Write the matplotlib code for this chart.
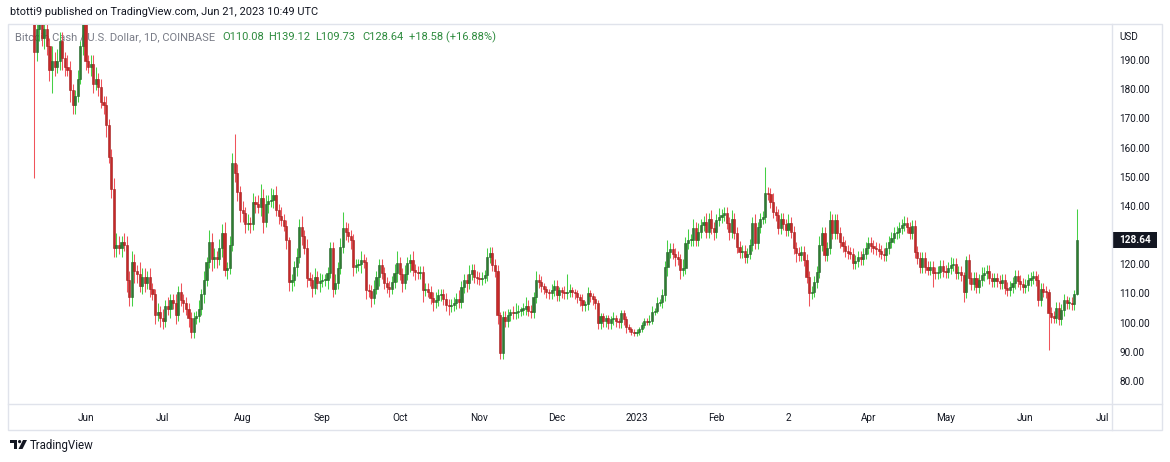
import numpy as np
import pandas as pd
import matplotlib
matplotlib.use("Agg")
import matplotlib.pyplot as plt
import matplotlib.dates as mdates
from matplotlib.patches import Rectangle, Polygon, Circle

plt.rcParams['font.family'] = ['Roboto', 'DejaVu Sans']

# ---------------- data ----------------
start_date = "2022-05-12"
first_open = 205.0

closes = [
    193, 201, 203, 198, 201, 195, 187, 190, 188, 190,
    197, 191, 188, 187, 180, 175, 178, 184, 195, 203,
    190, 188, 189, 182, 184, 181, 176, 175, 168, 157,
    146, 126, 127, 126, 128, 127, 115, 109, 121, 118,
    117, 113, 116, 114, 116, 112, 110, 103, 104, 102,
    101, 106, 105, 108, 107, 103, 111, 108, 107, 105,
    102, 97, 102, 102.5, 105, 110, 115, 121, 128, 122,
    123, 122, 126, 131, 118.4, 119, 127, 155, 151.6, 145,
    139, 138, 134, 134.5, 134, 141.7, 141, 140, 143, 135,
    141, 142, 142.5, 144, 139, 137, 135.5, 133.6, 128.7, 114.3,
    115, 119.4, 122.8, 133, 130, 126, 115.6, 115, 112.2, 116,
    114, 114.5, 115, 115, 117.5, 126, 112, 114, 119, 126.3,
    132.8, 131.5, 130, 128.7, 119.4, 120, 120.3, 121.8, 121, 111.5,
    111.2, 108.8, 112, 116, 120, 117.4, 114, 112.6, 112, 114.3,
    117.4, 120.8, 117, 114, 117, 120.8, 121.8, 118.4, 117.8, 117.4,
    117.6, 111.5, 111.8, 111, 108.8, 107.5, 108, 109.8, 110, 108.5,
    106.4, 106, 106.5, 107, 108.5, 107.4, 112.6, 115, 114, 117,
    118.4, 116, 115.6, 115.2, 115.8, 116.5, 122.8, 124.2, 120, 118,
    103, 90, 102.3, 101, 103, 104, 103.5, 104, 104.5, 104.8,
    105, 106, 104.5, 104, 109, 115, 114.3, 113, 112, 110.8,
    110.5, 111.5, 113, 109.8, 111.5, 110.8, 110.5, 111, 111.5, 111,
    110.5, 109, 108, 106.4, 106.8, 110.5, 109.5, 108.5, 107, 100.2,
    102.5, 101, 102, 100.2, 101.5, 102, 101, 100.5, 103.6, 101.5,
    98.8, 98, 97, 96.8, 97, 98, 99.5, 101, 100.5, 101,
    104, 104.5, 107, 107.5, 109.8, 119.4, 124.5, 125.5, 124, 122.8,
    122, 118.4, 119, 127.6, 128.5, 128.7, 132.8, 128.5, 131.4, 133.8,
    135, 131.5, 136, 132.8, 131.5, 135.5, 136.5, 137.2, 138, 134.5,
    131.5, 136, 131, 126.3, 124.5, 124.8, 122.8, 124, 127, 134.5,
    127.6, 133, 136, 136.5, 144.8, 144.5, 141.7, 138.3, 137.2, 132.8,
    136, 134, 132, 134.5, 131.4, 126, 124.2, 123.5, 124.5, 121.8,
    116, 110.5, 111, 114.3, 117.7, 127, 131, 123.5, 126, 135.5,
    131, 135.5, 131, 128, 126.5, 125, 124.2, 124, 120.8, 121.5,
    122.8, 122, 124, 126, 127.6, 126.5, 126, 125.5, 125, 124,
    123.5, 126, 128, 129.5, 131, 131.5, 132.8, 133.8, 134.5, 133,
    131, 133.5, 124.5, 122.5, 119.4, 122.5, 119.5, 118.5, 119.5, 117.4,
    117.2, 117.8, 119.8, 118, 117.7, 119, 120, 120.5, 117.4, 117.6,
    116.7, 110.8, 121.8, 115.6, 113.5, 115.6, 112.6, 115, 116.5, 117.4,
    118.2, 115.5, 114.5, 115.5, 114.5, 114, 115, 112.2, 111.5, 112.6,
    114, 116.3, 114.5, 113.5, 112.6, 113.2, 115, 115.6, 116.2, 115,
    108, 112, 111, 110.8, 103.6, 102.3, 102.1, 105.4, 101.5, 104.7,
    108, 107, 107.2, 106.8, 110.08, 128.64,
]

upper_wicks = [
    10, 4, 3, 5, 3, 4, 3, 5, 3, 4,
    3, 3, 2, 4, 3, 2, 2, 3, 2, 3,
    4, 2, 3, 3, 4, 2, 3, 2, 3, 2,
    3, 4, 4, 3, 2, 3, 3, 3, 4, 3,
    2, 4, 3, 3, 2, 3, 2, 2, 3, 2,
    3, 2, 3, 2, 2, 3, 2, 3, 2, 2,
    2, 2, 2, 2, 3, 2, 3, 2, 4, 3,
    3, 2, 3, 3, 4, 2, 3, 3.5, 10, 3,
    2, 3, 2, 3, 2, 3, 2, 3, 5, 3,
    3, 2, 4, 2, 3, 2, 3, 2, 2, 1,
    2, 2, 3, 3, 4, 2, 3, 2, 2, 3,
    2, 3, 2, 2, 2, 2, 2, 3, 2, 3,
    5.4, 2, 3, 2, 2, 2, 2, 3, 2, 2,
    2, 2, 3, 2, 2, 2, 2, 2, 2, 2,
    3, 4, 2, 2, 3, 2, 2, 3, 2, 2,
    2, 2, 2, 2, 2, 2, 3, 2, 2, 2,
    2, 2, 2, 2, 2, 3, 2, 2, 2, 3,
    2, 2, 2, 2, 2, 2, 3, 2, 2, 2,
    2, 1, 2, 2, 2, 1, 2, 3, 2, 1,
    2, 3, 2, 2, 2, 3, 2, 2, 1, 1,
    1, 2, 2, 2, 1, 1, 2, 6, 2, 1,
    1, 1, 1, 2, 1, 2, 1, 1, 1, 1,
    1, 1, 1, 1, 1, 2, 1, 1, 1, 1,
    1, 1, 1, 1, 1, 1, 1, 1, 1, 2,
    2, 1, 2, 1, 2, 2, 4, 2, 2, 2,
    2, 2, 3, 2, 4, 2, 3, 2, 3, 2,
    2, 3, 2, 3, 2, 2, 3, 2, 2, 2,
    2, 3, 2, 2, 2, 2, 2, 2, 2, 2,
    3, 2, 2, 2, 9, 2, 2, 3, 2, 2,
    2, 2, 2, 3, 2, 2, 2, 2, 2, 2,
    2, 2, 2, 2, 2, 3, 2, 2, 2, 3,
    2, 2, 2, 2, 2, 2, 2, 2, 2, 2,
    2, 2, 2, 2, 2, 2, 2, 2, 2, 2,
    2, 2, 2, 2, 2, 2, 2, 2, 2.3, 2,
    2, 2, 2, 2, 2, 2, 2, 2, 2, 2,
    2, 2, 2, 2, 2, 2, 3, 2, 2, 2,
    2, 1, 1.5, 2, 2, 2, 2, 2, 3, 2,
    2, 2, 2, 2, 2, 2, 2, 2, 2, 2,
    2, 2, 2, 2, 2, 2, 2, 2, 2, 2,
    2, 2, 2, 2, 1, 2, 2, 2, 2, 2,
    2, 1.5, 2, 2, 1.5, 10.48,
]

lower_wicks = [
    43, 3, 4, 3, 4, 3, 4, 8, 3, 2,
    3, 4, 3, 2, 4, 3, 3, 2, 2, 3,
    3, 2, 3, 3, 2, 3, 2, 3, 4, 2,
    3, 3, 3, 2, 3, 2, 4, 3, 3, 4,
    3, 2, 3, 3, 2, 3, 2, 3, 2, 3,
    3, 2, 2, 3, 2, 3, 2, 2, 3, 2,
    3, 2, 2, 2, 2, 2, 3, 2, 2, 4,
    3, 3, 2, 3, 2, 3, 2, 2, 3, 3,
    4, 3, 3, 2, 3, 2, 3, 2, 3, 4,
    2, 3, 2, 3, 2, 3, 2, 2, 3, 3,
    3, 2, 3, 2, 3, 2, 3, 2, 3, 2,
    2, 3, 2, 2, 3, 2, 3, 2, 2, 2,
    2, 3, 2, 3, 3, 2, 2, 3, 2, 3,
    2, 3, 2, 2, 3, 2, 2, 2, 3, 2,
    2, 3, 2, 3, 2, 2, 3, 2, 3, 2,
    2, 4, 2, 2, 2, 3, 2, 2, 2, 2,
    2, 3, 2, 2, 2, 2, 2, 2, 3, 2,
    2, 2, 2, 2, 2, 2, 2, 2, 2, 2,
    3, 2, 2, 2, 2, 2, 2, 2, 2, 2,
    2, 2, 2, 2, 2, 2, 2, 2, 2, 2,
    2, 2, 2, 2, 2, 2, 2, 2, 2, 2,
    2, 2, 2, 2, 2, 2, 2, 2, 2, 2,
    2, 2, 2, 2, 2, 2, 2, 2, 2, 2,
    2, 1, 1, 1, 1, 1, 1, 1, 1, 1,
    1, 1, 1, 1, 2, 2, 3, 2, 2, 3,
    2, 3, 2, 2, 2, 2, 2, 2, 2, 2,
    2, 2, 2, 2, 3, 2, 2, 2, 2, 2,
    3, 2, 2, 2, 2, 2, 2, 2, 2, 2,
    2, 2, 2, 2, 2, 2, 2, 2, 2, 2,
    2, 2, 2, 2, 2, 2, 3, 2, 2, 2,
    2, 4.5, 2, 2, 2, 2, 2, 2, 2, 2,
    2, 2, 2, 2, 2, 2, 2, 2, 2, 2,
    2, 2, 2, 2, 2, 2, 2, 2, 2, 2,
    2, 2, 2, 2, 2, 2, 2, 2, 2, 2,
    2, 2, 2, 2, 2, 2, 2, 2, 2, 5,
    2, 2, 2, 2, 2, 2, 2, 2, 2, 2,
    2, 3.4, 2, 2, 2, 2, 2, 2, 2, 2,
    2, 2, 2, 2, 2, 2, 2, 2, 2, 2,
    2, 2, 2, 2, 2, 2, 2, 2, 2, 2,
    2, 2, 2, 2, 12.6, 2, 2, 2, 2, 2,
    2, 2, 2, 2, 2, 0.35,
]

month_ticks = ["2022-06-01", "2022-07-01", "2022-08-01", "2022-09-01", "2022-10-01",
               "2022-11-01", "2022-12-01", "2023-01-01", "2023-02-01", "2023-03-01",
               "2023-04-01", "2023-05-01", "2023-06-01", "2023-07-01"]
month_labels = ["Jun", "Jul", "Aug", "Sep", "Oct", "Nov", "Dec", "2023", "Feb", "2",
                "Apr", "May", "Jun", "Jul"]
price_ticks = [80, 90, 100, 110, 120, 140, 150, 160, 170, 180, 190]

header = "btotti9 published on TradingView.com, Jun 21, 2023 10:49 UTC"
symbol_title = "Bitcoin Cash / U.S. Dollar, 1D, COINBASE"
ohlc_items = ["O110.08", "H139.12", "L109.73", "C128.64", "+18.58 (+16.88%)"]
last_price = "128.64"

assert len(closes) == len(upper_wicks) == len(lower_wicks)

# ---------------- figure ----------------
W, H = 1170, 462
fig = plt.figure(figsize=(W / 100, H / 100), dpi=100)
fig.patch.set_facecolor("white")

# pixel-coordinate overlay (behind the price axes)
bg = fig.add_axes([0, 0, 1, 1], zorder=0)
bg.set_xlim(0, W)
bg.set_ylim(H, 0)
bg.axis("off")

PL, PR, PT, PB = 10, 1112, 25, 404
ax = fig.add_axes([PL / W, 1 - PB / H, (PR - PL) / W, (PB - PT) / H], zorder=1)
ax.patch.set_alpha(0)
for s in ax.spines.values():
    s.set_visible(False)
ax.set_xticks([])
ax.set_yticks([])

dates = pd.date_range(start_date, periods=len(closes), freq="D")
x = mdates.date2num(dates)
c = np.array(closes, dtype=float)
o = np.r_[first_open, c[:-1]]
hi = np.maximum(o, c) + np.array(upper_wicks, dtype=float)
lo = np.minimum(o, c) - np.array(lower_wicks, dtype=float)
up = c >= o

px_per_day = 2.575
ax.set_xlim(x[0] - (34 - PL) / px_per_day, x[0] + (PR - 34) / px_per_day)
ppd = 2.918  # pixels per dollar
ax.set_ylim(80 - (PB - 382) / ppd, 80 + (382 - PT) / ppd)

up_body, up_edge, up_wick = "#2e7d32", "#23632a", "#45d045"
dn_body, dn_edge, dn_wick = "#c62828", "#a01f1f", "#f0545b"

wick_cols = np.where(up, up_wick, dn_wick)
ax.vlines(x, lo, hi, colors=wick_cols, linewidth=0.75, zorder=2)
body_bottom = np.minimum(o, c)
body_h = np.maximum(np.abs(c - o), 0.4)
ax.bar(x, body_h, bottom=body_bottom, width=0.82,
       color=np.where(up, up_body, dn_body),
       edgecolor=np.where(up, up_edge, dn_edge), linewidth=0.4, zorder=3)

# ---------------- frame & separators ----------------
frame_col = "#e0e3eb"
bg.add_patch(Rectangle((8, 24), 1154, 406, fill=False, edgecolor=frame_col, linewidth=1.0))
bg.plot([PR, PR], [24, 430], color=frame_col, linewidth=1.0)
bg.plot([8, 1162], [PB, PB], color=frame_col, linewidth=1.0)

txt_col = "#131722"
# header
bg.text(10, 12, header, fontsize=7.9, color=txt_col, ha="left", va="center")
# legend
bg.text(15, 37, symbol_title, fontsize=8.0, color="#787b86", ha="left", va="center")
for xpos, item in zip([222, 268, 315, 362, 409], ohlc_items):
    bg.text(xpos, 37, item, fontsize=8.0, color="#2e8b3e", ha="left", va="center")

# price axis labels
ytrans = matplotlib.transforms.blended_transform_factory(bg.transData, ax.transData)
for p in price_ticks:
    bg.text(1119, p, f"{p:.2f}", transform=ytrans, fontsize=7.2, color=txt_col,
            ha="left", va="center")
bg.text(1119, 37, "USD", fontsize=7.2, color=txt_col, ha="left", va="center")

# last price tag
last_y = ax.transData.transform((0, c[-1]))[1]
last_ypix = H - last_y
bg.add_patch(Rectangle((PR + 1, last_ypix - 8), 44, 16, facecolor="#131722", edgecolor="none"))
bg.text(1119, last_ypix, last_price, fontsize=7.2, color="white", ha="left", va="center",
        fontweight="bold")

# month labels
xtrans = matplotlib.transforms.blended_transform_factory(ax.transData, bg.transData)
for d, lab in zip(month_ticks, month_labels):
    bg.text(mdates.datestr2num(d), 418, lab, transform=xtrans, fontsize=7.2, color=txt_col,
            ha="center", va="center")

# TradingView logo
logo = "#131722"
bg.add_patch(Rectangle((10, 440), 7, 3, facecolor=logo, edgecolor="none"))
bg.add_patch(Rectangle((13.5, 440), 3.5, 9, facecolor=logo, edgecolor="none"))
bg.add_patch(Circle((19.6, 441.6), 1.6, facecolor=logo, edgecolor="none"))
bg.add_patch(Polygon([(23, 440), (27, 440), (22.5, 449), (18.5, 449)], closed=True,
                     facecolor=logo, edgecolor="none"))
bg.text(30, 445, "TradingView", fontsize=8.3, color=txt_col, ha="left", va="center")

fig.savefig("out.png", dpi=100, facecolor="white")
